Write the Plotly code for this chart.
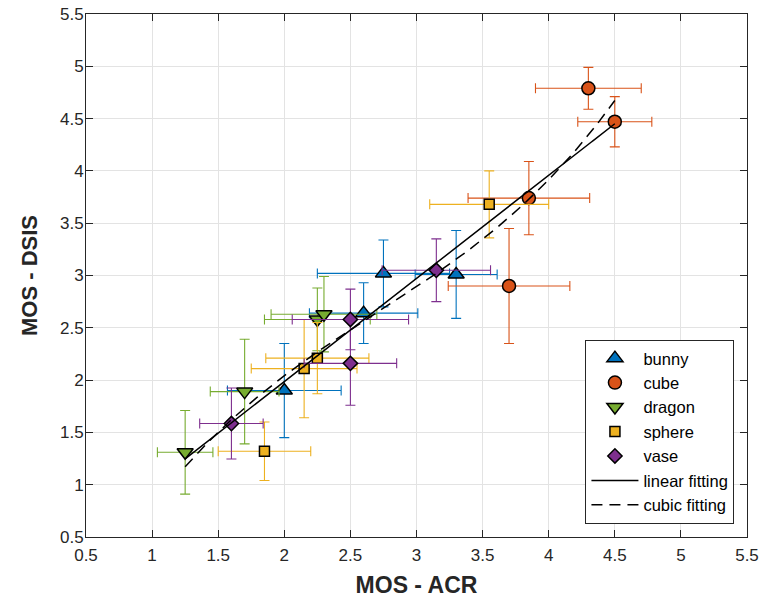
import numpy as np
import plotly.graph_objects as go

# MOS - ACR (x) and MOS - DSIS (y) per model, with half-widths of the error bars
bunny_x = [2.00, 2.60, 2.75, 3.30]
bunny_y = [1.90, 2.64, 3.02, 3.01]
bunny_xerr = [0.43, 0.41, 0.50, 0.31]
bunny_yerr = [0.45, 0.29, 0.32, 0.42]

cube_x = [3.70, 3.85, 4.30, 4.50]
cube_y = [2.90, 3.74, 4.79, 4.47]
cube_xerr = [0.46, 0.46, 0.40, 0.28]
cube_yerr = [0.55, 0.35, 0.20, 0.24]

dragon_x = [1.25, 1.70, 2.25, 2.30]
dragon_y = [1.31, 1.89, 2.58, 2.63]
dragon_xerr = [0.21, 0.26, 0.40, 0.40]
dragon_yerr = [0.40, 0.50, 0.30, 0.36]

sphere_x = [1.85, 2.15, 2.25, 3.55]
sphere_y = [1.32, 2.11, 2.21, 3.68]
sphere_xerr = [0.35, 0.40, 0.39, 0.45]
sphere_yerr = [0.28, 0.47, 0.34, 0.32]

vase_x = [1.60, 2.50, 2.50, 3.15]
vase_y = [1.585, 2.16, 2.58, 3.05]
vase_xerr = [0.24, 0.35, 0.44, 0.41]
vase_yerr = [0.34, 0.40, 0.29, 0.30]

tick_vals = [0.5, 1, 1.5, 2, 2.5, 3, 3.5, 4, 4.5, 5, 5.5]
tick_text = ["0.5", "1", "1.5", "2", "2.5", "3", "3.5", "4", "4.5", "5", "5.5"]

series = [
    ("bunny", bunny_x, bunny_y, bunny_xerr, bunny_yerr, "#0072BD", "triangle-up", 14),
    ("cube", cube_x, cube_y, cube_xerr, cube_yerr, "#D95319", "circle", 13),
    ("dragon", dragon_x, dragon_y, dragon_xerr, dragon_yerr, "#77AC30", "triangle-down", 14),
    ("sphere", sphere_x, sphere_y, sphere_xerr, sphere_yerr, "#EDB120", "square", 10),
    ("vase", vase_x, vase_y, vase_xerr, vase_yerr, "#7E2F8E", "diamond", 11),
]

FONT = "Liberation Sans, Arial, Helvetica, sans-serif"
TXT = "#262626"

fig = go.Figure()
for name, xs, ys, xe, ye, color, symbol, size in series:
    fig.add_trace(go.Scatter(
        x=xs, y=ys, mode="markers", name=name,
        error_x=dict(type="data", array=xe, color=color, thickness=1.1, width=5),
        error_y=dict(type="data", array=ye, color=color, thickness=1.1, width=5),
        marker=dict(symbol=symbol, size=size, color=color,
                    line=dict(color="black", width=1.5)),
    ))

# Least-squares fits over all points
all_x = np.array(bunny_x + cube_x + dragon_x + sphere_x + vase_x)
all_y = np.array(bunny_y + cube_y + dragon_y + sphere_y + vase_y)
xs_fit = np.linspace(all_x.min(), all_x.max(), 200)
lin = np.polyval(np.polyfit(all_x, all_y, 1), xs_fit)
cub = np.polyval(np.polyfit(all_x, all_y, 3), xs_fit)

fig.add_trace(go.Scatter(x=xs_fit, y=lin, mode="lines", name="linear fitting",
                         line=dict(color="black", width=1.5)))
fig.add_trace(go.Scatter(x=xs_fit, y=cub, mode="lines", name="cubic fitting",
                         line=dict(color="black", width=1.5, dash="11px,7px")))

axis_common = dict(
    range=[0.5, 5.5], tickmode="array", tickvals=tick_vals, ticktext=tick_text,
    showgrid=True, gridcolor="#e3e3e3", gridwidth=1,
    showline=True, linecolor=TXT, linewidth=1, mirror="ticks",
    ticks="inside", ticklen=7, tickcolor=TXT, tickwidth=1,
    zeroline=False, automargin=False,
    tickfont=dict(family=FONT, size=17, color=TXT),
)

fig.update_layout(
    width=765, height=601,
    margin=dict(l=86, r=18, t=14, b=64),
    paper_bgcolor="white", plot_bgcolor="white",
    showlegend=True,
    legend=dict(
        x=0.981, y=0.025, xanchor="right", yanchor="bottom",
        bgcolor="white", bordercolor=TXT, borderwidth=1,
        font=dict(family=FONT, size=16.5, color="black"),
        itemwidth=47, tracegroupgap=0,
    ),
    xaxis=dict(axis_common, ticklabelstandoff=3,
               title=dict(text="<b>MOS - ACR</b>", standoff=12,
                          font=dict(family=FONT, size=23, color=TXT))),
    yaxis=dict(axis_common, ticklabelstandoff=-2,
               title=dict(text="<b>MOS - DSIS</b>", standoff=16,
                          font=dict(family=FONT, size=22, color=TXT))),
)

fig.write_html("out.html")
